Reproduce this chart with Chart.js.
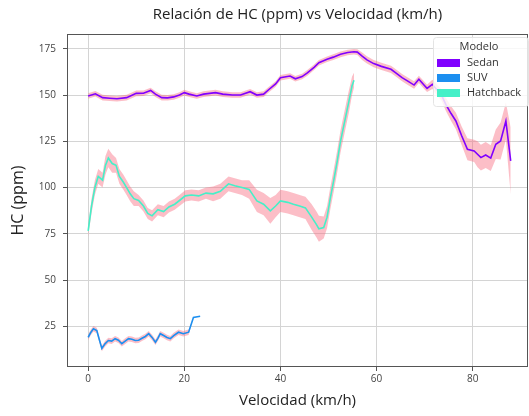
<!DOCTYPE html>
<html>
<head>
<meta charset="utf-8">
<script src="https://cdn.jsdelivr.net/npm/chart.js@4.4.1/dist/chart.umd.min.js"></script>
<style>
  html, body { margin: 0; padding: 0; background: #fff; }
  #wrap { width: 529px; height: 416px; }
</style>
</head>
<body>
<div id="wrap"><canvas id="c" width="529" height="416"></canvas></div>
<script>
// tick labels
const xTicks = [0, 20, 40, 60, 80];
const yTicks = [25, 50, 75, 100, 125, 150, 175];

// Sedan
const sedanX = [0, 1.5, 3, 4.5, 6, 8, 10, 11.5, 13, 14, 15.3, 16.5, 17.8, 19, 20, 21, 22.6, 24, 26.5, 28,
  30, 31.7, 33.7, 35.1, 36.5, 37.6, 39, 40, 42, 43.1, 44.5, 45.6, 47, 48, 49.7, 51, 52.5, 54, 55.3, 56,
  57, 58, 59.4, 61, 63, 64, 65.3, 66.5, 67.8, 68.8, 70, 70.5, 71.6, 72.5, 73.5, 74.4, 75.5, 76.5, 77.7, 78.9,
  80.3, 81, 81.7, 82.7, 83.75, 84.8, 85.8, 86.9, 87.9];
const sedanY = [149.5, 150.7, 148.6, 148.3, 148, 148.6, 150.9, 151, 152.5, 150.5, 148.6, 148.5, 149, 150, 151.3, 150.5, 149.5, 150.5, 151.3, 150.5,
  150, 150, 151.8, 150, 150.5, 153, 156, 159.4, 160.3, 158.8, 160, 162, 165, 167.5, 169.3, 170.5, 172, 173, 173.4, 173.2,
  171, 169, 167, 165.5, 163.9, 162, 159.4, 157.5, 155.4, 158.5, 155, 153.6, 155.8, 153, 150, 145, 140, 136, 128, 120.7,
  119.8, 118, 116.2, 117.6, 115.9, 123.4, 125.2, 136, 114.4];
const sedanSpread = [1.5, 1.5, 1.5, 1.5, 1.5, 1.5, 1.5, 1.5, 1.5, 1.5, 1.5, 1.5, 1.5, 1.5, 1.5, 1.5, 1.5, 1.5, 1.5, 1.5,
  1.5, 1.5, 1.5, 1.5, 1.5, 1.5, 1.5, 1.5, 1.5, 1.5, 1.5, 1.5, 1.5, 1.5, 1.5, 1.5, 1.5, 1.5, 1.5, 1.5,
  2, 2, 2, 2, 2, 2, 2, 2, 2, 2, 2, 2, 2.5, 3, 3, 3.5, 4, 4.5, 5, 6,
  6, 7, 7, 7, 7, 8, 10, 10, 18];

// SUV
const suvX = [0, 0.5, 1.1, 1.8, 2.3, 2.85, 3.5, 4.2, 4.9, 5.6, 6.3, 7, 7.7, 8.4, 9.1, 9.8, 10.5, 11.2, 11.9, 12.6,
  13.3, 14, 14.5, 15, 15.7, 16.4, 17.1, 17.8, 18.8, 19.8, 20.9, 21.9, 23.3];
const suvY = [19, 21.5, 23.7, 22.7, 18, 13, 15.5, 17.3, 17, 18.3, 17.5, 15.6, 17, 18.3, 18, 17.3, 17.5, 18.5, 19.5, 21,
  19, 16.4, 18.5, 21, 20, 19, 18.3, 20, 21.8, 21, 21.8, 29.8, 30.4];
const suvSpread = [1.5, 1.5, 1.5, 1.5, 1.5, 1.5, 1.5, 1.5, 1.5, 1.5, 1.5, 1.5, 1.5, 1.5, 1.5, 1.5, 1.5, 1.5, 1.5, 1.5,
  1.5, 1.5, 1.5, 1.5, 1.5, 1.5, 1.5, 1.5, 1.5, 1.5, 1.5, 0, 0];

// Hatchback
const hatchX = [0, 0.7, 1.4, 2.1, 3, 3.6, 4.2, 5, 5.8, 6.5, 7.3, 8, 8.75, 9.5, 10.5, 11.5, 12.4, 13.3, 14.5, 15.7,
  16.8, 18, 19, 20.2, 21.5, 23, 24.5, 26, 27.5, 29.2, 30.5, 32, 33.5, 35.1, 36.5, 37.9, 39, 40, 41.5, 42.7,
  44, 45.2, 46.5, 47.5, 48, 49, 49.7, 50.4, 51.1, 51.8, 52.5, 53.3, 54.2, 54.9, 55.3];
const hatchY = [76.6, 90, 100, 106, 104, 112, 116, 113, 112, 106, 103, 100, 96.6, 94, 93, 90, 86, 84.7, 88, 87,
  89.5, 91, 93, 95.5, 96, 95.5, 97, 96.6, 98, 102, 101, 100, 99, 92.8, 91, 87.4, 90, 92.8, 92, 91,
  90, 89, 84, 80, 77.7, 78.4, 84, 94.6, 104, 114, 125, 135, 146, 155, 158];
const hatchSpread = [3, 4, 4, 4, 4, 5, 5, 5, 4, 4, 4, 4, 4, 4, 3, 3, 3, 3, 3, 3,
  3, 3, 3, 3, 3, 3, 3, 4, 4, 4, 4, 4, 5, 6, 6, 7, 6, 6, 6, 6,
  6, 6, 7, 7, 7, 6, 6, 6, 6, 6, 6, 6, 6, 5, 4];

const seriesNames = ['Sedan', 'SUV', 'Hatchback'];
const seriesColors = ['#8000ff', '#1c8ff0', '#45f0c8'];
const bandColor = 'rgba(248, 110, 130, 0.45)';

function pts(xs, ys, sp, sign) {
  return xs.map((x, i) => ({ x: x, y: ys[i] + sign * (sp ? sp[i] : 0) }));
}

function makeSet(name, color, xs, ys, sp) {
  return [
    {
      label: name + '_hi',
      data: pts(xs, ys, sp, 1),
      borderWidth: 0,
      pointRadius: 0,
      fill: false,
      order: 2,
    },
    {
      label: name + '_lo',
      data: pts(xs, ys, sp, -1),
      borderWidth: 0,
      pointRadius: 0,
      fill: '-1',
      backgroundColor: bandColor,
      order: 2,
    },
    {
      label: name,
      data: pts(xs, ys, null, 0),
      borderColor: color,
      backgroundColor: color,
      borderWidth: 1.6,
      pointRadius: 0,
      fill: false,
      order: 1,
    },
  ];
}

const datasets = [].concat(
  makeSet('Sedan', seriesColors[0], sedanX, sedanY, sedanSpread),
  makeSet('SUV', seriesColors[1], suvX, suvY, suvSpread),
  makeSet('Hatchback', seriesColors[2], hatchX, hatchY, hatchSpread),
);

// frame around the plot + legend inside
const framePlugin = {
  id: 'frame',
  afterDatasetsDraw(chart) {
    const a = chart.chartArea;
    const ctx = chart.ctx;
    ctx.save();
    ctx.strokeStyle = '#555';
    ctx.lineWidth = 1;
    ctx.strokeRect(a.left + 0.5, a.top + 0.5, a.right - a.left - 1, a.bottom - a.top - 1);

    // legend box
    const bx = 433, by = 37, bw = 95, bh = 69;
    ctx.fillStyle = 'rgba(255,255,255,0.82)';
    ctx.strokeStyle = '#e4e4e4';
    ctx.beginPath();
    ctx.roundRect(bx + 0.5, by + 0.5, bw, bh, 3);
    ctx.fill();
    ctx.stroke();
    ctx.fillStyle = '#333';
    ctx.font = '11px "Open Sans"';
    ctx.textAlign = 'center';
    ctx.textBaseline = 'middle';
    ctx.fillText('Modelo', 479, 47);
    ctx.textAlign = 'left';
    seriesNames.forEach((n, i) => {
      const y = 63 + i * 15;
      ctx.fillStyle = seriesColors[i];
      ctx.fillRect(437, y - 4, 23, 8);
      ctx.fillStyle = '#333';
      ctx.fillText(n, 467, y);
    });
    ctx.restore();
  },
};

const ctx = document.getElementById('c').getContext('2d');
new Chart(ctx, {
  type: 'line',
  data: { datasets: datasets },
  options: {
    responsive: false,
    animation: false,
    layout: { padding: { left: 0, right: 1, top: 0, bottom: 0 } },
    plugins: {
      legend: { display: false },
      tooltip: { enabled: false },
      title: {
        display: true,
        fullSize: false,
        text: 'Relación de HC (ppm) vs Velocidad (km/h)',
        color: '#222',
        font: { family: 'Open Sans', size: 15, weight: 'normal' },
        padding: { top: 6, bottom: 10 },
      },
    },
    scales: {
      x: {
        type: 'linear',
        min: -4.4,
        max: 91.5,
        afterBuildTicks: (s) => { s.ticks = xTicks.map((v) => ({ value: v })); },
        afterFit: (s) => { s.height = 49; },
        grid: { color: '#d4d4d4', tickLength: 4, tickColor: '#555' },
        border: { display: false },
        ticks: { color: '#444', font: { family: 'Open Sans', size: 10 }, padding: 2 },
        title: {
          display: true,
          text: 'Velocidad (km/h)',
          color: '#222',
          font: { family: 'Open Sans', size: 15 },
          padding: { top: 0, bottom: 6.5 },
        },
      },
      y: {
        type: 'linear',
        min: 3,
        max: 183,
        afterBuildTicks: (s) => { s.ticks = yTicks.map((v) => ({ value: v })); },
        afterFit: (s) => { s.width = 67; },
        grid: { color: '#d4d4d4', tickLength: 4, tickColor: '#555' },
        border: { display: false },
        ticks: { color: '#444', font: { family: 'Open Sans', size: 10 }, padding: 7 },
        title: {
          display: true,
          text: 'HC (ppm)',
          color: '#222',
          font: { family: 'Open Sans', size: 16 },
          padding: { top: 8.4, bottom: 0 },
        },
      },
    },
  },
  plugins: [framePlugin],
});
</script>
</body>
</html>
